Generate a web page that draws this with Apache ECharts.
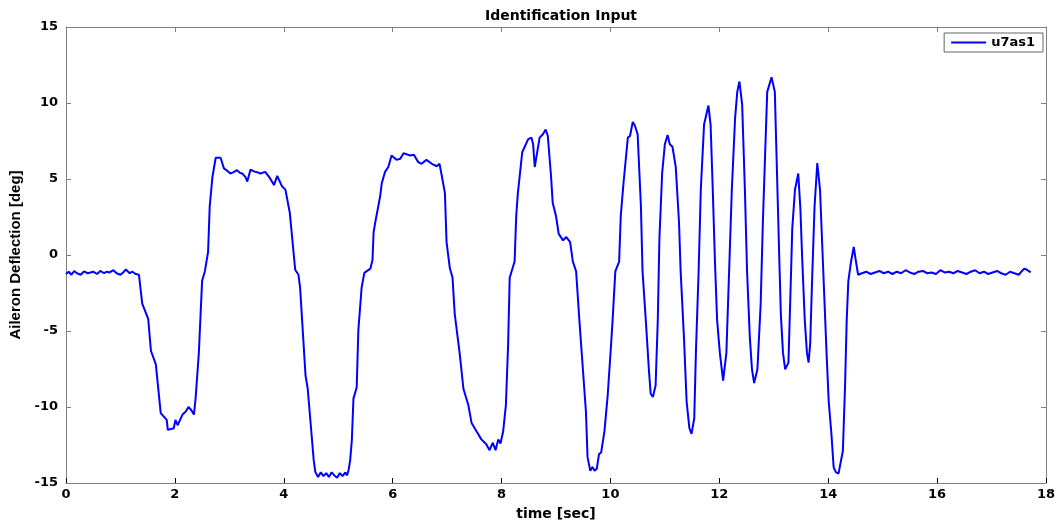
<!DOCTYPE html>
<html>
<head>
<meta charset="utf-8">
<script src="https://cdn.jsdelivr.net/npm/echarts@6/dist/echarts.min.js"></script>
<style>
html,body{margin:0;padding:0;background:#fff;}
#chart{width:1058px;height:526px;}
</style>
</head>
<body>
<div id="chart"></div>
<script>
// ---- data ----
const chartTitle = 'Identification Input';
const seriesName = 'u7as1';
const xTicks = [0, 2, 4, 6, 8, 10, 12, 14, 16, 18];
const yTicks = [-15, -10, -5, 0, 5, 10, 15];

const time = [
  0, 0.05, 0.1, 0.15, 0.2, 0.27, 0.33, 0.4, 0.45, 0.5, 0.57, 0.63, 0.7, 0.75, 0.8, 0.87, 0.93, 1.0, 1.05, 1.1, 1.17, 1.22, 1.28, 1.34,
  1.40, 1.51, 1.56, 1.65, 1.74, 1.85, 1.87, 1.93, 1.98, 2.01, 2.05, 2.08, 2.14, 2.20, 2.25, 2.30, 2.35, 2.38, 2.44, 2.50, 2.55, 2.61, 2.64, 2.69, 2.75, 2.84,
  2.90, 2.96, 3.02, 3.08, 3.14, 3.20, 3.24, 3.30, 3.33, 3.39, 3.45, 3.51, 3.57, 3.66, 3.75, 3.82, 3.88, 3.97, 4.03, 4.11, 4.21, 4.27, 4.30, 4.40, 4.44, 4.55,
  4.58, 4.63, 4.68, 4.73, 4.78, 4.83, 4.88, 4.93, 4.98, 5.03, 5.08, 5.13, 5.16, 5.19, 5.22, 5.25, 5.28, 5.34, 5.37, 5.43, 5.48, 5.59, 5.63, 5.65, 5.68, 5.77,
  5.80, 5.86, 5.92, 5.98, 6.07, 6.14, 6.20, 6.23, 6.32, 6.39, 6.47, 6.53, 6.62, 6.72, 6.81, 6.86, 6.90, 6.96, 6.99, 7.05, 7.10, 7.14, 7.23, 7.30, 7.39, 7.45,
  7.54, 7.63, 7.72, 7.78, 7.84, 7.89, 7.94, 7.98, 8.03, 8.08, 8.12, 8.15, 8.24, 8.27, 8.30, 8.38, 8.49, 8.55, 8.58, 8.61, 8.64, 8.70, 8.76, 8.81, 8.85, 8.91,
  8.94, 9.00, 9.05, 9.13, 9.19, 9.26, 9.31, 9.37, 9.43, 9.49, 9.55, 9.58, 9.63, 9.67, 9.71, 9.75, 9.79, 9.83, 9.86, 9.89, 9.95, 10.01, 10.04, 10.09, 10.16,
  10.19, 10.24, 10.32, 10.36, 10.41, 10.45, 10.50, 10.56, 10.59, 10.65, 10.71, 10.74, 10.78, 10.83, 10.87, 10.90, 10.95, 11.00, 11.05, 11.09, 11.14, 11.20,
  11.26, 11.29, 11.35, 11.40, 11.45, 11.49, 11.54, 11.57, 11.62, 11.66, 11.72, 11.80, 11.84, 11.88, 11.92, 11.96, 12.01, 12.07, 12.13, 12.18, 12.23, 12.29,
  12.33, 12.37, 12.42, 12.47, 12.51, 12.56, 12.60, 12.64, 12.70, 12.76, 12.80, 12.84, 12.88, 12.96, 13.02, 13.06, 13.10, 13.13, 13.17, 13.21, 13.27, 13.31,
  13.34, 13.39, 13.45, 13.49, 13.52, 13.57, 13.61, 13.64, 13.67, 13.70, 13.75, 13.80, 13.85, 13.91, 13.97, 14.01, 14.06, 14.10, 14.14, 14.19, 14.22, 14.27,
  14.31, 14.34, 14.37, 14.42, 14.47, 14.51, 14.55,
  14.62, 14.70, 14.78, 14.86, 14.94, 15.02, 15.10, 15.18, 15.26, 15.34, 15.42, 15.50, 15.58, 15.66, 15.74, 15.82, 15.90, 15.98, 16.06, 16.14, 16.22, 16.30,
  16.38, 16.46, 16.54, 16.62, 16.70, 16.78, 16.86, 16.94, 17.02, 17.10, 17.18, 17.26, 17.34, 17.42, 17.50, 17.56, 17.60, 17.64, 17.68, 17.72
];

const deflection = [
  -1.25, -1.1, -1.3, -1.05, -1.2, -1.3, -1.08, -1.2, -1.15, -1.1, -1.25, -1.05, -1.2, -1.1, -1.15, -1.0, -1.2, -1.3, -1.15, -0.95, -1.2, -1.1, -1.25, -1.3,
  -3.2, -4.2, -6.3, -7.2, -10.4, -10.85, -11.5, -11.45, -11.4, -10.85, -11.2, -11.3, -10.5, -10.3, -10.0, -10.2, -10.5, -9.45, -6.45, -1.7, -1.08, 0.21, 3.22, 5.15, 6.4, 6.4,
  5.7, 5.55, 5.36, 5.45, 5.58, 5.4, 5.36, 5.1, 4.83, 5.62, 5.5, 5.45, 5.36, 5.47, 5.04, 4.6, 5.2, 4.5, 4.3, 2.8, -0.97, -1.3, -2.15, -7.94, -8.8, -13.5,
  -14.28, -14.6, -14.3, -14.55, -14.35, -14.6, -14.3, -14.5, -14.65, -14.35, -14.55, -14.3, -14.5, -14.17, -13.5, -12.2, -9.45, -8.7, -4.94, -2.15, -1.18, -0.9, -0.33, 1.5, 2.14, 3.86,
  4.72, 5.47, 5.79, 6.55, 6.26, 6.33, 6.7, 6.7, 6.55, 6.6, 6.11, 6.0, 6.26, 6.0, 5.84, 6.0, 5.26, 4.07, 0.85, -0.86, -1.5, -3.87, -6.44, -8.8, -9.87, -11.06,
  -11.6, -12.13, -12.45, -12.84, -12.35, -12.84, -12.13, -12.4, -11.6, -9.87, -6.0, -1.5, -0.43, 2.57, 4.07, 6.76, 7.62, 7.72, 7.29, 5.79, 6.44, 7.72, 7.94, 8.26, 7.83, 5.15,
  3.43, 2.57, 1.39, 0.96, 1.18, 0.85, -0.43, -1.08, -4.3, -7.3, -10.3, -13.3, -14.2, -13.95, -14.2, -14.06, -13.1, -12.99, -12.88, -11.6, -9.23, -6.0, -4.3, -1.08, -0.43,
  2.57, 4.72, 7.72, 7.83, 8.75, 8.5, 7.94, 3.22, -1.08, -4.3, -7.73, -9.13, -9.34, -8.59, -4.3, 1.07, 5.36, 7.29, 7.9, 7.29, 7.12, 5.79,
  2.14, -1.08, -5.37, -9.66, -11.38, -11.77, -10.74, -6.44, -1.08, 4.29, 8.58, 9.83, 8.58, 4.29, -0.43, -4.3, -6.44, -8.27, -6.44, -1.08, 4.29, 9.0,
  10.73, 11.41, 9.87, 4.29, -1.08, -5.37, -7.52, -8.42, -7.52, -3.22, 2.14, 6.44, 10.73, 11.7, 10.73, 5.36, 0.0, -3.87, -6.44, -7.52, -7.08, -2.15,
  1.72, 4.29, 5.36, 3.0, 0.0, -4.3, -6.44, -7.08, -5.8, -2.15, 3.22, 6.05, 4.29, -1.08, -6.44, -9.66, -11.8, -13.96, -14.28, -14.38, -14.38, -12.88,
  -8.59, -4.3, -1.72, -0.43, 0.53, -0.43, -1.3,
  -1.2, -1.1, -1.25, -1.15, -1.05, -1.2, -1.1, -1.25, -1.1, -1.2, -1.0, -1.15, -1.25, -1.1, -1.05, -1.2, -1.15, -1.25, -1.0, -1.15, -1.1, -1.2,
  -1.05, -1.15, -1.25, -1.1, -1.0, -1.2, -1.1, -1.25, -1.15, -1.05, -1.2, -1.3, -1.1, -1.2, -1.3, -1.05, -0.9, -0.95, -1.05, -1.14
];

// ---- chart ----
const pairs = time.map((t, i) => [t, deflection[i]]);
const axisGray = '#808080';
const tickFont = {fontFamily: 'DejaVu Sans', fontWeight: 'bold', fontSize: 13, color: '#000'};

const chart = echarts.init(document.getElementById('chart'), null, {renderer: 'canvas'});
chart.setOption({
  animation: false,
  backgroundColor: '#fff',
  title: {
    text: chartTitle,
    left: 556, top: 4, textAlign: 'center',
    textStyle: {fontFamily: 'DejaVu Sans', fontWeight: 'bold', fontSize: 14, color: '#000'}
  },
  legend: {
    data: [seriesName],
    right: 15, top: 33,
    orient: 'vertical',
    backgroundColor: '#fff',
    borderColor: '#666', borderWidth: 1,
    padding: [3, 8, 3, 7],
    itemWidth: 35, itemHeight: 2,
    itemGap: 8,
    icon: 'rect',
    textStyle: {fontFamily: 'DejaVu Sans', fontWeight: 'bold', fontSize: 13, color: '#000'}
  },
  grid: {left: 65, right: 11, top: 27, bottom: 33, containLabel: false},
  xAxis: [{
    type: 'value', position: 'bottom', min: xTicks[0], max: xTicks[xTicks.length - 1], interval: 2,
    name: 'time [sec]', nameLocation: 'middle', nameGap: 24,
    nameTextStyle: {fontFamily: 'DejaVu Sans', fontWeight: 'bold', fontSize: 14, color: '#000'},
    axisLine: {show: true, onZero: false, lineStyle: {color: axisGray, width: 1}},
    axisTick: {show: true, inside: true, length: 5, lineStyle: {color: '#000'}},
    axisLabel: Object.assign({margin: 5}, tickFont),
    splitLine: {show: false}
  }, {
    type: 'value', position: 'top', min: xTicks[0], max: xTicks[xTicks.length - 1], interval: 2,
    axisLine: {show: true, onZero: false, lineStyle: {color: axisGray, width: 1}},
    axisTick: {show: true, inside: true, length: 5, lineStyle: {color: axisGray}},
    axisLabel: {show: false}, splitLine: {show: false}
  }],
  yAxis: [{
    type: 'value', position: 'left', min: yTicks[0], max: yTicks[yTicks.length - 1], interval: 5,
    name: 'Aileron Deflection [deg]', nameLocation: 'middle', nameGap: 43,
    nameTextStyle: {fontFamily: "'Liberation Sans Narrow', 'Liberation Sans', sans-serif", fontWeight: 'bold', fontSize: 15, color: '#000'},
    axisLine: {show: true, onZero: false, lineStyle: {color: axisGray, width: 1}},
    axisTick: {show: true, inside: true, length: 5, lineStyle: {color: axisGray}},
    axisLabel: Object.assign({margin: 8}, tickFont),
    splitLine: {show: false}
  }, {
    type: 'value', position: 'right', min: yTicks[0], max: yTicks[yTicks.length - 1], interval: 5,
    axisLine: {show: true, onZero: false, lineStyle: {color: axisGray, width: 1}},
    axisTick: {show: true, inside: true, length: 5, lineStyle: {color: axisGray}},
    axisLabel: {show: false}, splitLine: {show: false}
  }],
  series: [{
    name: seriesName,
    type: 'line',
    data: pairs,
    symbol: 'none',
    lineStyle: {color: '#0000ff', width: 2},
    itemStyle: {color: '#0000ff'},
    xAxisIndex: 0, yAxisIndex: 0
  }]
});
</script>
</body>
</html>
